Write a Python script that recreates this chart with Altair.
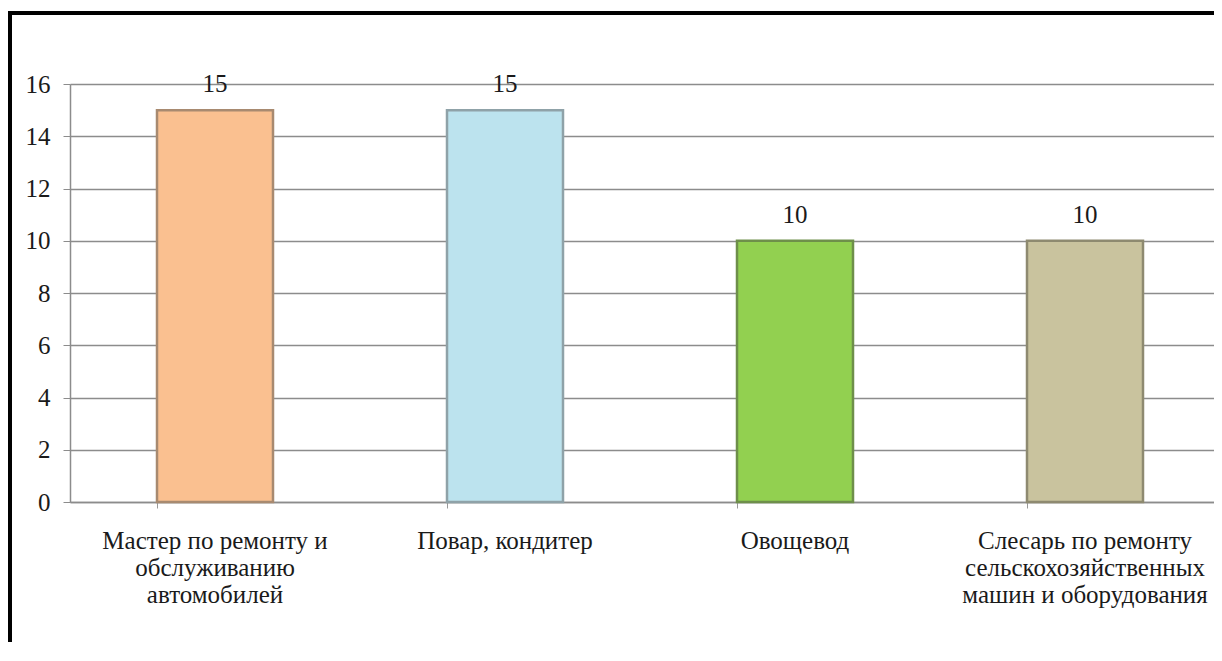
import altair as alt
import pandas as pd

categories = [
    "Мастер по ремонту и\nобслуживанию\nавтомобилей",
    "Повар, кондитер",
    "Овощевод",
    "Слесарь по ремонту\nсельскохозяйственных\nмашин и оборудования",
]
values = [15, 15, 10, 10]
y_ticks = [0, 2, 4, 6, 8, 10, 12, 14, 16]

fill_colors = ["#FAC090", "#BCE3EE", "#92D050", "#C9C39E"]
edge_colors = ["#A88A70", "#8FA2A8", "#6E8F4A", "#8E8A70"]

df = pd.DataFrame({"cat": categories, "val": values})

FONT = "Liberation Serif"

x_enc = alt.X(
    "cat:N",
    sort=categories,
    title=None,
    scale=alt.Scale(range=[0, 1160], paddingInner=0.6, paddingOuter=0.3),
    axis=alt.Axis(
        labelAngle=0,
        labelExpr="split(datum.label, '\\n')",
        labelFont=FONT,
        labelFontSize=25,
        labelColor="#1a1a1a",
        labelLineHeight=27,
        labelPadding=20,
        labelBaseline="top",
        labelLimit=0,
        bandPosition=0,
        tickSize=6,
        tickColor="#999999",
        domainColor="#8c8c8c",
        domainWidth=1.5,
        grid=False,
    ),
)

y_enc = alt.Y(
    "val:Q",
    title=None,
    scale=alt.Scale(domain=[0, 16], nice=False),
    axis=alt.Axis(
        values=y_ticks,
        labelFont=FONT,
        labelFontSize=25,
        labelColor="#1a1a1a",
        labelPadding=13,
        tickSize=7,
        tickColor="#8c8c8c",
        domainColor="#8c8c8c",
        domainWidth=1.5,
        grid=True,
        gridColor="#8c8c8c",
        gridWidth=1.5,
    ),
)

bars = alt.Chart(df).mark_bar(strokeWidth=2.5).encode(
    x=x_enc,
    y=y_enc,
    color=alt.Color("cat:N", sort=categories, scale=alt.Scale(domain=categories, range=fill_colors), legend=None),
    stroke=alt.Stroke("cat:N", sort=categories, scale=alt.Scale(domain=categories, range=edge_colors), legend=None),
)

labels = alt.Chart(df).mark_text(
    font=FONT, fontSize=25, color="#1a1a1a", baseline="middle", dy=-26
).encode(
    x=alt.X("cat:N", sort=categories),
    y=alt.Y("val:Q"),
    text=alt.Text("val:Q"),
)

frame = alt.Chart(df).mark_rect(
    fill=None, stroke="#000000", strokeWidth=4, filled=False
).encode(
    x=alt.value(-60), x2=alt.value(1300), y=alt.value(-71), y2=alt.value(700)
)

chart = alt.layer(bars, labels, frame).properties(
    width=1144,
    height=418,
    padding={"left": 62, "top": 76, "right": 0, "bottom": 140},
    autosize=alt.AutoSizeParams(type="none"),
    background="#ffffff",
).configure_view(stroke=None)

chart.save("out.html", embed_options={"renderer": "svg", "actions": False})
